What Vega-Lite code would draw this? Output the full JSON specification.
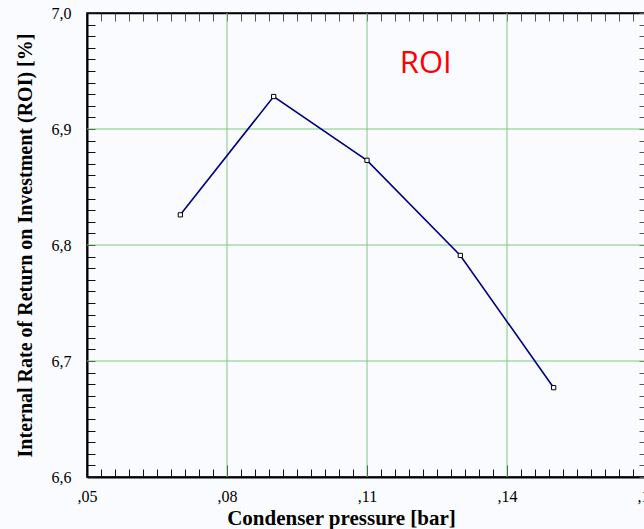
{
  "$schema": "https://vega.github.io/schema/vega-lite/v6.json",
  "width": 560,
  "height": 464,
  "autosize": {"type": "none"},
  "padding": {"left": 87, "top": 13, "right": -3, "bottom": 52},
  "background": "#f9fbfe",
  "config": {
    "view": {"stroke": "black", "strokeWidth": 1.5},
    "axis": {"grid": false}
  },
  "data": {
    "values": [
      {"pressure": 0.07, "roi": 6.826},
      {"pressure": 0.09, "roi": 6.928},
      {"pressure": 0.11, "roi": 6.873},
      {"pressure": 0.13, "roi": 6.791},
      {"pressure": 0.15, "roi": 6.677}
    ]
  },
  "layer": [
    {
      "data": {"values": [{"gx": 0.08}, {"gx": 0.11}, {"gx": 0.14}]},
      "mark": {"type": "rule", "color": "#7ec87e", "strokeWidth": 1},
      "encoding": {
        "x": {"field": "gx", "type": "quantitative", "scale": {"domain": [0.05, 0.17], "nice": false, "zero": false}, "axis": null}
      }
    },
    {
      "data": {"values": [{"gy": 6.7}, {"gy": 6.8}, {"gy": 6.9}]},
      "mark": {"type": "rule", "color": "#7ec87e", "strokeWidth": 1},
      "encoding": {
        "y": {"field": "gy", "type": "quantitative", "scale": {"domain": [6.6, 7.0], "nice": false, "zero": false}, "axis": null}
      }
    },
    {
      "mark": {"type": "point", "opacity": 0},
      "encoding": {
        "x": {
          "field": "pressure", "type": "quantitative",
          "scale": {"domain": [0.05, 0.17], "nice": false, "zero": false},
          "axis": {
            "orient": "top", "title": null, "labels": false, "grid": false,
            "values": [0.05,0.053,0.056,0.059,0.062,0.065,0.068,0.071,0.074,0.077,0.08,0.083,0.086,0.089,0.092,0.095,0.098,0.101,0.104,0.107,0.11,0.113,0.116,0.119,0.122,0.125,0.128,0.131,0.134,0.137,0.14,0.143,0.146,0.149,0.152,0.155,0.158,0.161,0.164,0.167,0.17],
            "tickSize": -8, "tickColor": "#555555", "tickWidth": 1,
            "domainColor": "black", "domainWidth": 1.5
          }
        },
        "y": {
          "field": "roi", "type": "quantitative",
          "scale": {"domain": [6.6, 7.0], "nice": false, "zero": false},
          "axis": {
            "orient": "right", "title": null, "labels": false, "grid": false,
            "values": [6.6,6.61,6.62,6.63,6.64,6.65,6.66,6.67,6.68,6.69,6.7,6.71,6.72,6.73,6.74,6.75,6.76,6.77,6.78,6.79,6.8,6.81,6.82,6.83,6.84,6.85,6.86,6.87,6.88,6.89,6.9,6.91,6.92,6.93,6.94,6.95,6.96,6.97,6.98,6.99,7.0],
            "tickSize": -8, "tickColor": "#555555", "tickWidth": 1,
            "domainColor": "black", "domainWidth": 1.5
          }
        }
      }
    },
    {
      "mark": {"type": "line", "color": "#000080", "strokeWidth": 1.6},
      "encoding": {
        "x": {
          "field": "pressure", "type": "quantitative",
          "scale": {"domain": [0.05, 0.17], "nice": false, "zero": false},
          "axis": {
            "orient": "bottom",
            "title": "Condenser pressure [bar]",
            "titleFont": "Liberation Serif", "titleFontWeight": "bold", "titleFontSize": 21, "titleColor": "black",
            "titleX": 254, "titleY": 47, "titleBaseline": "alphabetic", "titleAlign": "center", "titleAnchor": null,
            "values": [0.05,0.053,0.056,0.059,0.062,0.065,0.068,0.071,0.074,0.077,0.08,0.083,0.086,0.089,0.092,0.095,0.098,0.101,0.104,0.107,0.11,0.113,0.116,0.119,0.122,0.125,0.128,0.131,0.134,0.137,0.14,0.143,0.146,0.149,0.152,0.155,0.158,0.161,0.164,0.167,0.17],
            "labelExpr": "abs((datum.value - 0.05) / 0.03 - round((datum.value - 0.05) / 0.03)) < 0.01 ? replace(format(datum.value, '.2f'), '0.', ',') : ''",
            "labelFont": "Liberation Serif", "labelFontSize": 16, "labelColor": "black",
            "labelPadding": 23, "labelFlush": false, "labelOverlap": false, "labelBound": false,
            "tickSize": {"condition": {"test": "abs((datum.value - 0.05) / 0.03 - round((datum.value - 0.05) / 0.03)) < 0.01", "value": -12}, "value": -8},
            "tickColor": "#111111", "tickWidth": 1,
            "domainColor": "black", "domainWidth": 2,
            "grid": false
          }
        },
        "y": {
          "field": "roi", "type": "quantitative",
          "scale": {"domain": [6.6, 7.0], "nice": false, "zero": false},
          "axis": {
            "orient": "left",
            "title": "Internal Rate of Return on Investment (ROI) [%]",
            "titleFont": "Liberation Serif", "titleFontWeight": "bold", "titleFontSize": 20, "titleColor": "black",
            "titleX": -62, "titleY": 232, "titleAngle": -90, "titleBaseline": "middle", "titleAlign": "center", "titleAnchor": null,
            "values": [6.6,6.61,6.62,6.63,6.64,6.65,6.66,6.67,6.68,6.69,6.7,6.71,6.72,6.73,6.74,6.75,6.76,6.77,6.78,6.79,6.8,6.81,6.82,6.83,6.84,6.85,6.86,6.87,6.88,6.89,6.9,6.91,6.92,6.93,6.94,6.95,6.96,6.97,6.98,6.99,7.0],
            "labelExpr": "abs(datum.value * 10 - round(datum.value * 10)) < 0.01 ? replace(format(datum.value, '.1f'), '.', ',') : ''",
            "labelFont": "Liberation Serif", "labelFontSize": 16, "labelColor": "black",
            "labelPadding": 24, "labelFlush": false, "labelOverlap": false, "labelBound": false,
            "tickSize": -8, "tickColor": "#111111", "tickWidth": 1,
            "domainColor": "black", "domainWidth": 2,
            "grid": false
          }
        }
      }
    },
    {
      "mark": {"type": "point", "shape": "square", "size": 18, "filled": false, "stroke": "black", "strokeWidth": 1, "fill": "white", "opacity": 1},
      "encoding": {
        "x": {"field": "pressure", "type": "quantitative", "scale": {"domain": [0.05, 0.17], "nice": false, "zero": false}, "axis": null},
        "y": {"field": "roi", "type": "quantitative", "scale": {"domain": [6.6, 7.0], "nice": false, "zero": false}, "axis": null}
      }
    },
    {
      "data": {"values": [{"label": "ROI", "x": 0.1226, "y": 6.948}]},
      "mark": {"type": "text", "font": "Open Sans", "fontSize": 31, "color": "#ff0000", "align": "center", "baseline": "alphabetic"},
      "encoding": {
        "x": {"field": "x", "type": "quantitative", "scale": {"domain": [0.05, 0.17], "nice": false, "zero": false}, "axis": null},
        "y": {"field": "y", "type": "quantitative", "scale": {"domain": [6.6, 7.0], "nice": false, "zero": false}, "axis": null},
        "text": {"field": "label"}
      }
    }
  ],
  "resolve": {"axis": {"x": "independent", "y": "independent"}}
}
